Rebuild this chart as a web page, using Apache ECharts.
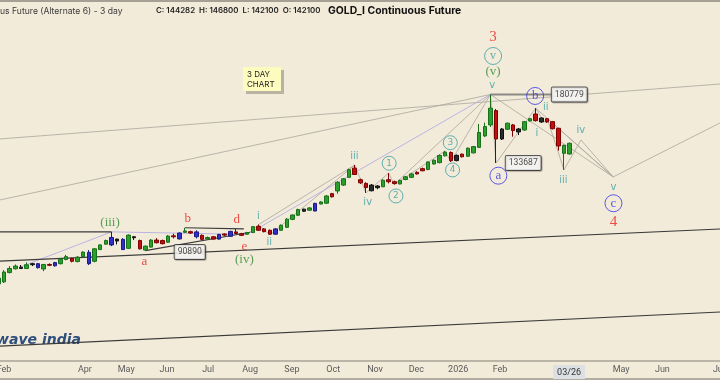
<!DOCTYPE html>
<html><head><meta charset="utf-8">
<script src="https://cdn.jsdelivr.net/npm/echarts@6/dist/echarts.min.js"></script>
<style>
html,body{margin:0;padding:0;background:#f3ebd9;}
#chart{width:720px;height:380px;}
</style></head><body><div id="chart"></div>
<script>
// ---- data: 3-day bars [open, close, low, high]
const ohlc = [
[78500,80500,77400,81300],[79200,82700,78800,83400],[82500,84000,82200,84900],[83900,84900,83600,85500],
[84500,84000,83800,85300],[84000,85400,83800,86300],[85800,85400,84900,86100],[85800,84300,84000,86100],
[83800,85500,83000,85700],[85500,85200,84900,85900],[85000,86200,84700,86500],[85800,87500,85500,87900],
[87400,88500,87100,89200],[87800,86700,86300,88100],[86600,88300,86300,88700],[88500,90300,88300,90600],
[90200,85800,85300,91100],[86700,91600,86300,91900],[91300,93200,91100,93400],[93500,95000,93400,95400],
[93200,96300,92700,98700],[95600,94800,93400,95800],[95500,91300,91100,96000],[91800,97300,91500,97600],
[96600,96200,95200,96900],[95000,91600,91300,95400],[91100,92700,90890,92900],[92300,95200,92100,95600],
[95200,94100,93800,96000],[95000,93700,93400,95400],[94300,96900,94100,97300],[97000,96600,95900,97900],
[95700,98200,95400,98500],[98500,99100,98300,100500],[98800,98200,97800,99200],[98700,96600,95900,99400],
[97200,95500,95200,97600],[95700,96300,95400,96700],[96600,95600,95400,96900],[95600,97600,95400,97800],
[97800,97300,96900,98000],[96800,98900,96700,99200],[98700,98000,97800,100000],[97900,97200,96900,98300],
[97700,98400,97600,98700],[98400,101000,98200,101300],[101100,99400,99200,101900],[100000,98800,98500,100400],
[99400,97700,97400,99700],[97700,100000,97400,100400],[99400,101600,99200,102000],[100700,104400,100400,104900],
[104300,106300,103900,106600],[106200,108900,105800,109300],[109100,108100,107800,109300],[108600,109700,108300,110100],
[108200,111900,108100,112200],[111600,112600,111400,113000],[112000,115600,111600,116100],[116800,115200,114800,117200],
[118200,122800,116800,123400],[121300,124700,120800,125100],[125500,129800,125100,130400],[130700,127100,126800,132500],
[124200,122500,121900,124800],[122200,120000,117200,122800],[121300,118300,118000,121900],[120800,119900,119100,121300],
[120400,123900,120200,124500],[124200,123100,122200,127900],[123100,122100,121600,123700],[121900,123800,121700,124200],
[124300,125800,123900,126200],[125500,127400,125100,128000],[128300,127400,127100,128900],[130400,129200,128900,131000],
[129900,134300,129500,134700],[133100,135300,132800,135800],[133900,138200,133500,138800],[138000,140200,137600,141000],
[140000,135100,134300,140700],[135100,138300,134700,138800],[139000,137400,137000,139400],[137700,142700,137300,143200],
[139800,143700,139400,144100],[143200,152900,142900,158800],[150600,157000,149900,159700],[158100,170200,156700,180779],
[168400,148600,133687,169600],[155300,148600,148000,156000],[155100,159300,154600,159800],[158100,154200,150100,158800],
[155300,153300,151200,156000],[154600,160400,154000,160900],[160900,162500,160500,163000],[165900,161100,160500,170200],
[163000,160200,159500,163400],[162500,160200,159500,163000],[160400,155500,155000,160900],[155800,144100,141200,156000],
[139500,144500,129700,145000],[139100,145800,138800,146300]
];
// bar class (g=green, r=red, b=blue, k=black)
const barClass = "ggggkgkbgr"+"bggrggbggg"+"bkbgkrggrr"+"grbgrbrgrb"+"rbrrggrrrb"+
                 "ggggkgbggr"+"gggrrrkkgr"+"rgggrrgggg"+"rkrgggggrk"+"grkggrkrrr"+"gg";
const barCount = 128; // bars incl. future space
// tick labels [bar position, text]
const tickLabels = [[1.0,'Feb'],[15.3,'Apr'],[22.6,'May'],[29.8,'Jun'],[37.1,'Jul'],[44.5,'Aug'],
  [51.9,'Sep'],[59.2,'Oct'],[66.6,'Nov'],[73.9,'Dec'],[81.3,'2026'],[88.7,'Feb'],[100.9,'03/26'],
  [110.1,'May'],[117.4,'Jun'],[127.4,'Jul']];
const crosshairTick = '03/26';

// trend / wave lines [[bar, price],[bar, price], ...]
const darkLines = [
  [[-0.5,98700],[20,98700]],
  [[-0.5,86700],[127.6,99990]],
  [[-0.5,59600],[127.6,69370]],
  [[26,90890],[44.5,98540]],
  [[33,100500],[43.4,100000]]
];
const levelLines = [ [[87,180779],[97.9,180779]] ];
const grayLines = [
  [[0.3,148630],[127.6,189340]],
  [[0.3,113610],[87,180779]],
  [[87,180779],[88,133687],[95,170200],[96.5,160000],[97,163000],[100,129700],[103,147980],[108.7,125720],[127.6,159470]],
  [[95,170200],[108.7,125720]],[[87,180779],[108.7,125720]],[[97,163000],[108.7,125720]],
  [[44,97600],[46,101900],[48,97400],[63,132500],[65,117200],[69,127900],[70,121600],[79,141000],[80,134300],[87,180779]],
  [[46,101900],[63,132500]],[[70,121600],[87,180779]]
];
const lavenderLines = [
  [[3.8,84500],[20,98700],[44,97600],[87,180779]]
];
// wave labels [bar, price, text, kind]
const waveLabels = [
  [87.47,232900,'3','deg'],[87.47,214190,'v','circT'],[87.47,199620,'(v)','inter'],[87.3,188500,'v','minor'],
  [94.9,179610,'b','blueC'],[96.8,170900,'ii','minor'],[95.2,152400,'i','minor'],[103.0,154200,'iv','minor'],
  [88.4,126430,'a','blueC'],[99.9,123900,'iii','minor'],[108.75,119930,'v','minor'],[108.75,111960,'c','blueC'],
  [108.75,103250,'4','deg'],[79.9,146200,'3','circN'],[80.3,129660,'4','circN'],[69.1,133530,'1','circN'],
  [70.3,115620,'2','circN'],[62.95,137890,'iii','minor'],[65.3,112460,'iv','minor'],[45.97,105870,'i','minor'],
  [47.9,94290,'ii','minor'],[43.5,87490,'(iv)','inter'],[19.75,102790,'(iii)','inter'],
  [25.8,86450,'a','redL'],[33.5,104810,'b','redL'],[36.2,90470,'c','redL'],[42.15,104030,'d','redL'],[43.5,92440,'e','redL']
];
const priceBoxes = [[100.94,180779,'180779'],[92.8,133687,'133687'],[33.84,90300,'90890']];

// ---- build
const palette = {g:['#2b9f2b','#18701a'], r:['#c20e0e','#7d0000'], b:['#2f2fc8','#1a1a86'], k:['#2a2a2a','#101010']};
const cats = Array.from({length: barCount}, (_, i) => String(i));
const candleData = ohlc.map((d, i) => {
  const c = palette[barClass[i]];
  return {value: d, itemStyle: {color: c[0], color0: c[0], borderColor: c[1], borderColor0: c[1]}};
});
const kindStyle = {
  deg:   {color:'#e8261f', fontFamily:'Liberation Serif', fontSize:15},
  inter: {color:'#2f8a2f', fontFamily:'Liberation Serif', fontSize:13},
  minor: {color:'#3a9fa2', fontFamily:'DejaVu Sans', fontSize:10},
  redL:  {color:'#e8261f', fontFamily:'Liberation Serif', fontSize:13},
  circT: {color:'#3a9fa2', fontFamily:'Liberation Serif', fontSize:12, ring:17},
  circN: {color:'#3a9fa2', fontFamily:'DejaVu Sans', fontSize:9, ring:14},
  blueC: {color:'#3434e8', fontFamily:'Liberation Serif', fontSize:13, ring:17}
};
const series = [{
  type:'candlestick', xAxisIndex:0, yAxisIndex:0, data:candleData, barWidth:4,
  itemStyle:{borderWidth:1}, silent:true, z:4
}];
function addLines(arr, color, width, z) {
  arr.forEach(seg => series.push({type:'line', xAxisIndex:1, yAxisIndex:0, data:seg, symbol:'none',
    lineStyle:{color, width}, silent:true, z, animation:false}));
}
addLines(darkLines, '#3a3a3a', 1.1, 3);
addLines(levelLines, '#8c8a86', 2, 3);
addLines(grayLines, '#aaa69e', 0.8, 1);
addLines(lavenderLines, '#b3ade4', 0.9, 1);
Object.keys(kindStyle).forEach(k => {
  const s = kindStyle[k];
  const data = waveLabels.filter(w => w[3] === k).map(w => [w[0], w[1], w[2]]);
  series.push({type:'scatter', xAxisIndex:1, yAxisIndex:0, data, z:5, silent:true,
    symbol:'circle', symbolSize: s.ring || 1,
    itemStyle: s.ring ? {color:'rgba(0,0,0,0)', borderColor:s.color, borderWidth:1} : {color:'rgba(0,0,0,0)'},
    label:{show:true, position:'inside', formatter:p => p.data[2], color:s.color, fontFamily:s.fontFamily, fontSize:s.fontSize}
  });
});
series.push({type:'scatter', xAxisIndex:1, yAxisIndex:0, z:6, silent:true, symbolSize:1,
  itemStyle:{color:'rgba(0,0,0,0)'},
  data: priceBoxes.map(b => [b[0], b[1], b[2]]),
  label:{show:true, position:'inside', formatter:p => p.data[2], color:'#222', fontFamily:'Roboto', fontSize:8.6,
    backgroundColor:'#ffffff', borderColor:'#333', borderWidth:1, borderRadius:1, padding:[3,3,2,3],
    shadowColor:'rgba(0,0,0,0.25)', shadowOffsetX:1, shadowOffsetY:1, shadowBlur:1}
});

const chart = echarts.init(document.getElementById('chart'), null, {renderer:'canvas'});
chart.setOption({
  animation:false,
  backgroundColor:'#f3ebd9',
  grid:{left:-4.48, top:1, width:724, height:360, containLabel:false, outerBoundsMode:'none'},
  xAxis:[
    {type:'category', data:cats, show:false, boundaryGap:true},
    {type:'value', min:-0.5, max:barCount-0.5, position:'bottom', splitLine:{show:false},
     axisLine:{show:true, lineStyle:{color:'#a9a396', width:1.5}}, axisTick:{show:false},
     axisLabel:{customValues: tickLabels.map(t => t[0]), margin:4, color:'#5b5b5b', fontSize:9, fontFamily:'Roboto',
       hideOverlap:false, showMinLabel:true, showMaxLabel:true,
       formatter: v => { const t = tickLabels.find(t => Math.abs(t[0]-v) < 1e-6); if (!t) return '';
         return t[1] === crosshairTick ? '{hl|' + t[1] + '}' : t[1]; },
       rich:{hl:{backgroundColor:'#dde0e2', color:'#333', fontSize:9, fontFamily:'Roboto', padding:[3,4,2,4]}}}}
  ],
  yAxis:[{type:'log', logBase:10, min:55884, max:272910, show:false}],
  graphic:[
    {type:'rect', left:0, top:0, shape:{width:720, height:2}, style:{fill:'#a5a093'}},
    {type:'rect', left:0, top:378, shape:{width:720, height:2}, style:{fill:'#b3ada1'}},
    {type:'text', left:0, top:7, style:{text:'us Future (Alternate 6) - 3 day', fill:'#3a3a3a', font:'8.6px Inter'}},
    {type:'text', left:156, top:7, style:{text:'C: 144282  H: 146800  L: 142100  O: 142100', fill:'#222', font:'600 7.9px Inter'}},
    {type:'text', left:328, top:6, style:{text:'GOLD_I Continuous Future', fill:'#111', font:'bold 10.4px Inter'}},
    {type:'group', left:243, top:67, children:[
      {type:'rect', shape:{x:3, y:3, width:38, height:24}, style:{fill:'#b9b3a4'}},
      {type:'rect', shape:{x:0, y:0, width:38, height:24}, style:{fill:'#fdfbbd'}},
      {type:'text', style:{x:4, y:3, text:'3 DAY\nCHART', fill:'#222', font:'8px Inter', lineHeight:10}}
    ]},
    {type:'text', left:-4, top:333, style:{text:'wave india', fill:'#2e4f7e', font:'italic bold 14px "DejaVu Sans"'}}
  ],
  series
});
</script></body></html>
